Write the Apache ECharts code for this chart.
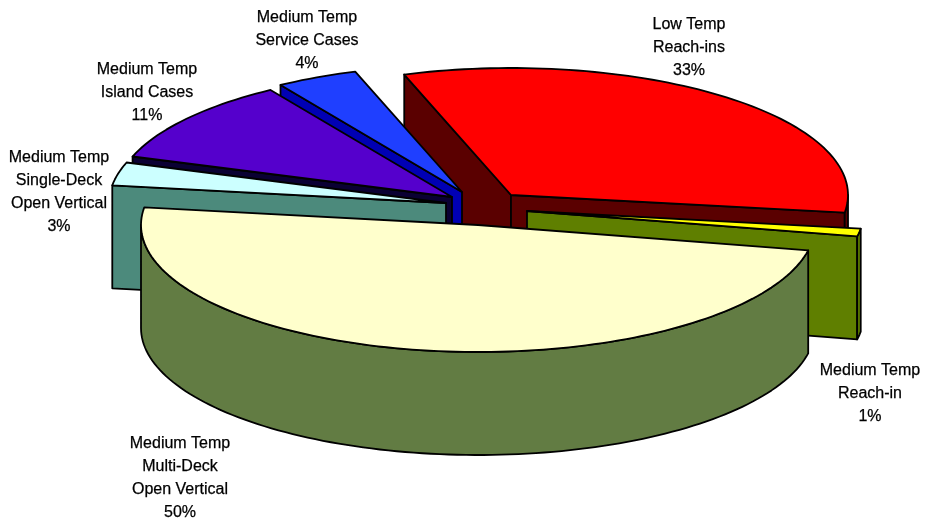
<!DOCTYPE html>
<html>
<head>
<meta charset="utf-8">
<style>html,body{margin:0;padding:0;background:#fff}#chart{width:927px;height:522px}</style>
<script src="https://cdn.jsdelivr.net/npm/echarts@6/dist/echarts.min.js"></script>
</head>
<body>
<div id="chart"></div>
<script>
// Case types and their share of the load, in order round the pie
const categories = [
  'Low Temp\nReach-ins',
  'Medium Temp\nService Cases',
  'Medium Temp\nIsland Cases',
  'Medium Temp\nSingle-Deck\nOpen Vertical',
  'Medium Temp\nMulti-Deck\nOpen Vertical',
  'Medium Temp\nReach-in'
];
const shares = [33, 4, 11, 3, 50, 1];

// Slice styling
const topColors = ['#ff0000', '#1f3fff', '#5500cc', '#ccffff', '#ffffcc', '#ffff00'];
const sideColors = ['#5a0000', '#0000b4', '#0a0033', '#4c8a7c', '#627c43', '#5f7f00'];

// Pie layout: ellipse of the tilted disc, extrusion depth, explosion of each slice
const pieCenter = [477, 207];
const radiusX = 337;
const radiusY = 127;
const depth = 103;
const startAngle = 8;
const explode = [[34, -12], [-15, -15], [-25, -10], [-31, -4], [1, 18], [50, 4]];
const paintRank = [0, 1, 2, 3, 5, 4];
const labelAnchors = [[689, 13], [307, 6], [147, 58], [59, 146], [180, 432], [870, 359]];

const total = shares.reduce((a, b) => a + b, 0);
const rad = d => d * Math.PI / 180;

function sliceRange(i) {
  let acc = 0;
  for (let k = 0; k < i; k++) acc += shares[k];
  const from = startAngle - acc / total * 360;
  return [from - shares[i] / total * 360, from];
}

function rimPoint(o, deg, drop) {
  return [o[0] + radiusX * Math.cos(rad(deg)), o[1] + radiusY * Math.sin(rad(deg)) + (drop || 0)];
}

function arcPoints(o, a, b, drop) {
  const n = Math.max(2, Math.ceil(Math.abs(b - a) / 1.5));
  const pts = [];
  for (let k = 0; k <= n; k++) pts.push(rimPoint(o, a + (b - a) * k / n, drop));
  return pts;
}

function renderSlice(params, api) {
  const i = params.dataIndex;
  const [lo, hi] = sliceRange(i);
  const o = [pieCenter[0] + explode[i][0], pieCenter[1] + explode[i][1]];
  const rank = paintRank[i] * 10;
  const line = { stroke: '#000', lineWidth: 1.8, lineJoin: 'round' };
  const piece = (points, fill, z) => ({
    type: 'polygon', z2: rank + z, shape: { points }, style: { fill, ...line }
  });
  const side = sideColors[i];
  const drop = [o[0], o[1] + depth];
  const kids = [];

  // Cut faces that turn toward the viewer
  if (Math.cos(rad(lo)) < 0) {
    kids.push(piece([o, rimPoint(o, lo), rimPoint(o, lo, depth), drop], side, 0));
  }
  if (Math.cos(rad(hi)) > 0) {
    kids.push(piece([o, rimPoint(o, hi), rimPoint(o, hi, depth), drop], side, 0));
  }
  // Front part of the curved rim
  for (const turn of [0, 360, -360]) {
    const a = Math.max(lo + turn, 0);
    const b = Math.min(hi + turn, 180);
    if (b > a) {
      kids.push(piece(arcPoints(o, a, b).concat(arcPoints(o, b, a, depth)), side, 1));
    }
  }
  // Top face
  kids.push(piece([o].concat(arcPoints(o, lo, hi)), topColors[i], 2));

  // Label: name and percentage
  kids.push({
    type: 'text', z2: 100,
    x: labelAnchors[i][0], y: labelAnchors[i][1],
    style: {
      text: categories[i] + '\n' + api.value(0) + '%',
      fill: '#000', stroke: '#000', lineWidth: 0.25,
      align: 'center', verticalAlign: 'top',
      font: '16px "Liberation Sans", Arial, sans-serif', lineHeight: 23
    }
  });
  return { type: 'group', children: kids };
}

const chart = echarts.init(document.getElementById('chart'), null, { renderer: 'canvas' });
chart.setOption({
  animation: false,
  backgroundColor: '#ffffff',
  series: [{
    type: 'custom',
    coordinateSystem: 'none',
    renderItem: renderSlice,
    data: shares.map(v => [v])
  }]
});
</script>
</body>
</html>
